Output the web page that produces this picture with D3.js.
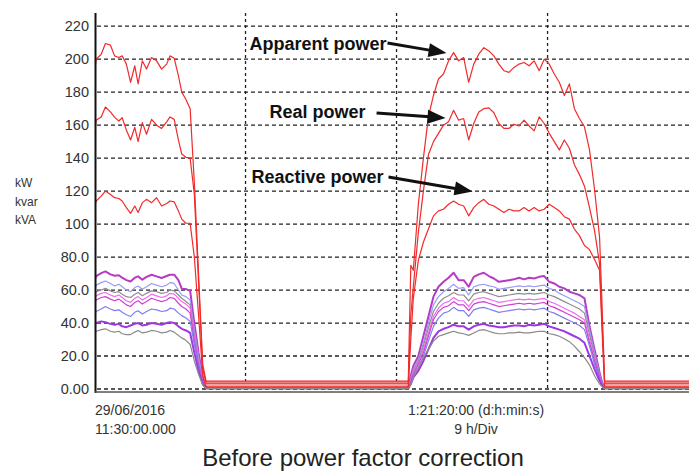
<!DOCTYPE html>
<html>
<head>
<meta charset="utf-8">
<script src="https://cdn.jsdelivr.net/npm/d3@7"></script>
<style>
  html, body { margin: 0; padding: 0; background: #fff; }
  svg { display: block; }
  text { font-family: "Liberation Sans", Arial, Helvetica, sans-serif; }
</style>
</head>
<body>
<svg id="chart" width="689" height="471"></svg>
<script>
// ---------- DATA (hours since 29/06/2016 11:30:00) ----------
const hoursOn1 = [0, 0.1, 0.4, 0.65, 0.95, 1.2, 1.45, 1.65, 1.9, 2.15, 2.4, 2.6, 2.85, 3.1, 3.4, 3.7, 4.0, 4.3, 4.5, 4.75, 5.0, 5.2, 5.45, 5.7, 5.95, 6.2, 6.45, 6.65];
const hoursOn2 = [18.7, 18.85, 19.0, 19.3, 19.6, 19.9, 20.2, 20.5, 20.8, 21.1, 21.4, 21.7, 22.0, 22.3, 22.6, 22.9, 23.2, 23.5, 23.8, 24.1, 24.4, 24.7, 25.0, 25.3, 25.6, 25.9, 26.2, 26.5, 26.8, 27.1, 27.4, 27.7, 28.0, 28.3, 28.6, 28.9, 29.2, 29.5, 29.8, 30.1, 30.25, 30.4];
const hoursEnd = 36;

// Red traces: apparent (kVA), real (kW), reactive (kvar)
const apparentOn1 = [192, 200, 203, 209.5, 208.5, 202, 201, 202, 197, 186, 196, 185, 199, 194, 201, 199, 194, 197, 202, 200.5, 190, 180, 175.5, 170, 125, 70, 15, 4.8];
const apparentOn2 = [4.8, 75, 72, 112, 140, 165, 178, 188, 191, 199, 204, 199, 201, 186, 197, 203, 207, 205, 202, 197, 193, 192, 195, 197, 198, 196, 199, 193, 200, 197, 191, 186, 178, 185, 170, 164, 159, 145, 121, 92, 50, 4.8];
const realOn1 = [155, 163, 165, 171, 168, 164.7, 162.5, 164.5, 157, 151, 158.7, 150, 161.5, 154.5, 163.5, 160, 158, 162, 165, 163.5, 151, 142.5, 140.5, 140, 118, 65, 12, 3.5];
const realOn2 = [3.5, 45, 62, 95, 120, 142, 150, 155, 160, 162, 169, 163, 164, 151, 161, 168, 170, 170.5, 167.5, 161, 158, 158, 160.5, 159.5, 163, 159.5, 156.5, 165, 161, 155, 150, 145, 151, 146, 136, 130, 123, 110, 96, 76, 40, 3.5];
const reactiveOn1 = [111, 114, 117, 120, 118, 116, 115.5, 114, 110, 106.5, 111, 107, 113, 115, 113, 116, 111, 112.5, 114, 113.5, 108, 103, 100.5, 100.5, 80, 45, 8, 1.3];
const reactiveOn2 = [1.3, 30, 55, 78, 89, 97, 105, 108, 109, 112, 114, 112, 111, 105, 110, 113, 115, 112, 111, 109, 107, 109, 108, 108, 110, 108, 110, 108, 109, 112, 110, 108, 104.5, 103, 97, 93, 87, 84.5, 78.5, 72, 35, 1.3];

// Lower per-phase traces
const s1On1 = [66, 68.5, 70.3, 71.3, 69.5, 68.7, 69, 67.5, 66, 65.2, 67.5, 68.3, 66.3, 68, 69.3, 68.3, 67.3, 68.5, 69.3, 69.3, 66, 60.8, 60.6, 59.5, 40, 22, 7, 0.6];
const s1On2 = [0.5, 8, 14, 20, 32, 44, 56, 62, 65, 67.5, 70.5, 66, 66, 62, 68, 69.5, 70.5, 68.5, 67, 65, 65.5, 66, 66.5, 67.5, 66.5, 67.5, 67, 68, 68.5, 65, 64, 62, 61, 59, 58, 57, 55, 38, 24, 10, 4, 0.6];
const s2On1 = [60, 63, 64.5, 65.5, 64, 62.5, 63.5, 62, 60, 59, 61.5, 62.5, 60.5, 62, 64, 63, 62, 63, 64.5, 64, 60, 57, 56, 54, 36, 20, 5, 0.5];
const s2On2 = [0.4, 6, 12, 18, 28, 40, 51, 56, 59, 61, 63.5, 61, 61.5, 57, 62, 63, 63.5, 62.5, 62, 60.5, 61, 61.5, 62, 62.5, 62, 62.5, 62, 62.5, 63, 61, 60, 58, 56.5, 55, 53.5, 52, 50, 36, 22, 9, 3.5, 0.5];
const s3On1 = [57, 59, 60, 61, 59.5, 58.5, 59, 57.5, 56, 55.5, 57.5, 58.5, 56.5, 58, 59.5, 59, 58, 58.5, 60, 59.5, 57, 55, 53, 51, 33, 17, 4, 0.5];
const s3On2 = [0.4, 5, 11, 17, 26, 37, 47, 52, 55, 56.5, 58.5, 57, 57, 53.5, 57.5, 58.5, 59, 58, 57, 56, 56.5, 57, 57.5, 58, 57.5, 58, 57.5, 58, 58.5, 57, 56, 54.5, 53, 51.5, 50, 48.5, 46, 33, 20, 8, 3, 0.4];
const s4On1 = [54.5, 56.5, 58, 58.5, 57, 56, 57, 55.5, 53.5, 52.5, 55, 56, 54, 55.5, 57.5, 56.5, 55.5, 56.5, 58, 57.5, 55, 53, 51.5, 49, 31, 16, 4, 0.5];
const s4On2 = [0.4, 5, 10, 16, 24, 34, 44, 49, 52, 53, 55.5, 53.5, 53.5, 50, 54, 55, 55.5, 54.5, 53.5, 52.5, 53, 53.5, 54, 54.5, 54, 54.5, 54, 54.5, 55, 53, 52, 50.5, 49, 47.5, 46, 44, 42, 30, 18, 7, 3, 0.4];
const s5On1 = [52, 54, 55.5, 56, 54.5, 53.5, 54.5, 53, 51, 50, 52.5, 53.5, 51.5, 53, 55, 54, 53, 54, 55.5, 55, 52, 50, 48.5, 46, 29, 15, 4, 0.4];
const s5On2 = [0.4, 4, 9, 15, 22, 32, 42, 47, 49.5, 50.5, 53, 51, 51, 47.5, 51.5, 52.5, 53, 52, 51, 50, 50.5, 51, 51.5, 52, 51.5, 52, 51.5, 52, 52.5, 50.5, 49.5, 48, 46.5, 45, 43.5, 42, 40, 28, 17, 7, 3, 0.4];
const s6On1 = [45, 47, 48.5, 50, 48.5, 47.5, 48, 46.5, 45, 44, 46.5, 47.5, 45.5, 47, 48.5, 48, 47, 47.5, 49, 48.5, 46, 44.5, 43, 41, 27, 14, 3.5, 0.4];
const s6On2 = [0.3, 4, 8, 13, 20, 29, 38, 43, 46, 47, 49.5, 47.5, 47.5, 44, 48, 49, 49.5, 48.5, 47.5, 46.5, 47, 47.5, 48, 48.5, 48, 48.5, 48, 48.5, 49, 47, 46, 44.5, 43, 41.5, 40, 38.5, 36, 26, 15, 6, 2.5, 0.3];
const s7On1 = [38.5, 40, 41, 40.5, 39.5, 39, 39.5, 38, 37.5, 38.5, 39.5, 40, 38.5, 39, 40, 39.5, 39, 40, 40.5, 40, 38, 36.5, 35.5, 34, 22, 11, 3, 0.3];
const s7On2 = [0.3, 3, 7, 11, 17, 24, 31, 35, 36.5, 37.5, 39, 38, 38, 36, 38, 39, 39.5, 38.5, 38, 37.5, 37.5, 38, 38.5, 38.5, 38, 39, 38.5, 39, 39.5, 38, 37, 36, 35, 33.5, 32, 30.5, 28, 20, 12, 5, 2, 0.3];
const s8On1 = [33.5, 35, 36, 36.5, 35, 34.5, 35, 33.5, 33, 33, 34.5, 35.5, 34, 34.5, 35.5, 35, 34, 34.5, 35.5, 34.5, 32.5, 31, 29.5, 27, 17, 9, 2.5, 0.3];
const s8On2 = [0.3, 3, 7, 13, 19, 24, 29, 32, 33, 34, 35, 34, 33.5, 32.5, 34, 35.5, 36, 35, 34, 33.5, 33.5, 34, 34, 34.5, 34, 34, 34.5, 35, 35, 33.5, 33, 32, 30.5, 28.7, 26, 22.6, 19, 14.6, 8, 3, 1.5, 0.3];

const yTickValues = [0, 20, 40, 60, 80, 100, 120, 140, 160, 180, 200, 220];
const yTickLabels = ["0.00", "20.0", "40.0", "60.0", "80.0", "100", "120", "140", "160", "180", "200", "220"];
const xGridHours = [9, 18, 27];
const unitLabels = ["kW", "kvar", "kVA"];
const startLabel = ["29/06/2016", "11:30:00.000"];
const spanLabel = ["1:21:20:00 (d:h:min:s)", "9 h/Div"];
const title = "Before power factor correction";
const annotations = [
  { label: "Apparent power", text: [9.24, 205.6], from: [17.46, 209.8], to: [20.98, 203.7] },
  { label: "Real power",     text: [10.43, 164.6], from: [16.81, 167.4], to: [20.92, 164.3] },
  { label: "Reactive power", text: [9.36, 125.2], from: [17.52, 128.6], to: [22.53, 119.8] }
];

// ---------- BUILD ----------
const hoursAll = hoursOn1.concat(hoursOn2, [hoursEnd]);
function build(on1, on2) {
  const vals = on1.concat(on2, [on2[on2.length - 1]]);
  return hoursAll.map((h, i) => ({ h: h, v: vals[i] }));
}

const lowerSeries = [
  { data: build(s1On1, s1On2), color: "#b63ac6", width: 2 },
  { data: build(s2On1, s2On2), color: "#9a9af4", width: 1.2 },
  { data: build(s3On1, s3On2), color: "#8e8e8e", width: 1.2 },
  { data: build(s4On1, s4On2), color: "#f06cf0", width: 1.2 },
  { data: build(s5On1, s5On2), color: "#d040d0", width: 1.2 },
  { data: build(s6On1, s6On2), color: "#7e7ef2", width: 1.2 },
  { data: build(s7On1, s7On2), color: "#9d38e2", width: 2 },
  { data: build(s8On1, s8On2), color: "#8a8a8a", width: 1.2 }
];
const apparent = build(apparentOn1, apparentOn2);
const real = build(realOn1, realOn2);
const reactive = build(reactiveOn1, reactiveOn2);

const svg = d3.select("#chart");
const W = 689, H = 471;
svg.append("rect").attr("width", W).attr("height", H).attr("fill", "#fff");

const x = d3.scaleLinear().domain([0, 36]).range([94.5, 94.5 + 36 * 16.78]);
const y = d3.scaleLinear().domain([0, 228]).range([389, 13]);

// grid
const grid = svg.append("g");
grid.selectAll("line.h").data(yTickValues).join("line")
  .attr("x1", 97).attr("x2", W)
  .attr("y1", d => y(d)).attr("y2", d => y(d))
  .attr("stroke", "#222").attr("stroke-width", 1.3).attr("stroke-dasharray", "4 3");
grid.selectAll("line.v").data(xGridHours).join("line")
  .attr("x1", d => x(d)).attr("x2", d => x(d))
  .attr("y1", y(228)).attr("y2", y(0))
  .attr("stroke", "#222").attr("stroke-width", 1.3).attr("stroke-dasharray", "3 3");

svg.append("clipPath").attr("id", "plotclip").append("rect")
  .attr("x", 95).attr("y", 0).attr("width", W - 95).attr("height", 391);
const plot = svg.append("g").attr("clip-path", "url(#plotclip)");

const line = d3.line().x(d => x(d.h)).y(d => y(d.v));

// standby band between apparent & reactive
const bandData = hoursAll.map((h, i) => ({ h: h, hi: apparent[i].v, lo: reactive[i].v }));
plot.append("path")
  .datum(bandData)
  .attr("d", d3.area().defined(d => d.hi <= 6).x(d => x(d.h)).y0(d => y(d.lo)).y1(d => y(d.hi)))
  .attr("fill", "#f5a0a4");

lowerSeries.forEach(s => {
  plot.append("path").datum(s.data).attr("d", line)
    .attr("fill", "none").attr("stroke", s.color).attr("stroke-width", s.width)
    .attr("stroke-linejoin", "round");
});
[reactive, real, apparent].forEach(dat => {
  plot.append("path").datum(dat).attr("d", line)
    .attr("fill", "none").attr("stroke", "#f22a2a").attr("stroke-width", 1.2)
    .attr("stroke-linejoin", "round");
});

// axes
svg.append("line").attr("x1", 95.5).attr("x2", 95.5).attr("y1", 13).attr("y2", 393)
  .attr("stroke", "#111").attr("stroke-width", 2);
svg.append("line").attr("x1", 95).attr("x2", W).attr("y1", 392).attr("y2", 392)
  .attr("stroke", "#555").attr("stroke-width", 1.6);

const yAxis = d3.axisLeft(y).tickValues(yTickValues)
  .tickFormat((d, i) => yTickLabels[i]).tickSize(0).tickPadding(6);
const yg = svg.append("g").attr("transform", "translate(95,0)").call(yAxis);
yg.select(".domain").remove();
yg.selectAll("text").attr("font-size", "14.5px").attr("fill", "#333")
  .attr("font-family", "'Liberation Sans', Arial, sans-serif");

// unit labels
svg.selectAll("text.unit").data(unitLabels).join("text")
  .attr("x", 15).attr("y", (d, i) => 187 + i * 18.5)
  .attr("font-size", "12px").attr("fill", "#333").text(d => d);

// bottom labels
svg.selectAll("text.start").data(startLabel).join("text")
  .attr("x", 95).attr("y", (d, i) => 415 + i * 18.5)
  .attr("font-size", "14px").attr("fill", "#333").text(d => d);
svg.selectAll("text.span").data(spanLabel).join("text")
  .attr("x", 476).attr("y", (d, i) => 415 + i * 18.5).attr("text-anchor", "middle")
  .attr("font-size", "14px").attr("fill", "#333").text(d => d);
svg.append("text").attr("x", 363).attr("y", 466).attr("text-anchor", "middle")
  .attr("font-size", "24px").attr("fill", "#222").text(title);

// annotations
const ann = svg.append("g");
annotations.forEach(a => {
  ann.append("text").attr("x", x(a.text[0])).attr("y", y(a.text[1]))
    .attr("font-size", "18px").attr("font-weight", "bold").attr("fill", "#111").text(a.label);
  const x1 = x(a.from[0]), y1 = y(a.from[1]), x2 = x(a.to[0]), y2 = y(a.to[1]);
  const ang = Math.atan2(y2 - y1, x2 - x1);
  const L = 18, hw = 7;
  const bx = x2 - L * Math.cos(ang), by = y2 - L * Math.sin(ang);
  ann.append("line").attr("x1", x1).attr("y1", y1).attr("x2", bx + 2 * Math.cos(ang)).attr("y2", by + 2 * Math.sin(ang))
    .attr("stroke", "#111").attr("stroke-width", 3);
  const px = -Math.sin(ang), py = Math.cos(ang);
  ann.append("path")
    .attr("d", `M${x2},${y2}L${bx + hw * px},${by + hw * py}L${bx - hw * px},${by - hw * py}Z`)
    .attr("fill", "#111");
});
</script>
</body>
</html>
